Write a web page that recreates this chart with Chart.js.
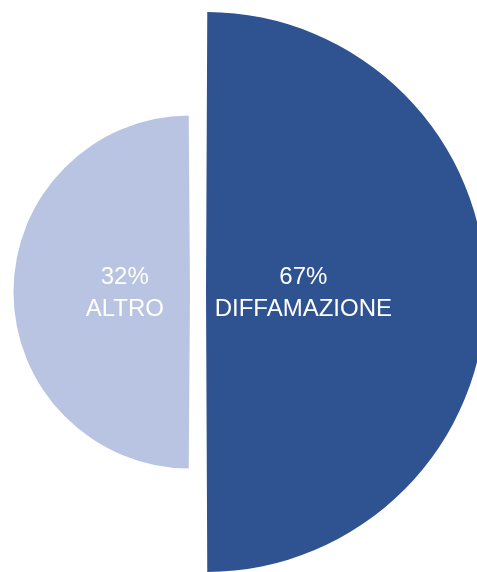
<!DOCTYPE html>
<html>
<head>
<meta charset="utf-8">
<script src="https://cdn.jsdelivr.net/npm/chart.js@4/dist/chart.umd.min.js"></script>
<style>
  html, body { margin:0; padding:0; background:#fff; overflow:hidden; }
  body { width:477px; height:572px; position:relative; }
  #wrap { position:absolute; left:-90px; top:4px; width:576px; height:576px; }
</style>
</head>
<body>
<div id="wrap"><canvas id="chart"></canvas></div>
<script>
// data
const labels   = ['DIFFAMAZIONE', 'ALTRO'];
const values   = [67, 32];
const percents = ['67%', '32%'];
const colors   = ['#2F5290', '#B8C4E2'];

// white two-line labels inside each slice
const sliceLabels = {
  id: 'sliceLabels',
  afterDatasetsDraw(chart){
    const ctx = chart.ctx;
    const meta = chart.getDatasetMeta(0);
    ctx.save();
    ctx.fillStyle = '#fff';
    ctx.font = '24px "Liberation Sans", Arial, sans-serif';
    ctx.textAlign = 'center';
    ctx.textBaseline = 'middle';
    meta.data.forEach((arc, i)=>{
      const mid = (arc.startAngle + arc.endAngle) / 2;
      const d = 21 + arc.outerRadius * 0.31;
      const x = arc.x + Math.cos(mid) * d;
      const y = arc.y + Math.sin(mid) * d;
      ctx.fillText(percents[i], x, y - 15);
      ctx.fillText(labels[i], x, y + 17);
    });
    ctx.restore();
  }
};

new Chart(document.getElementById('chart'), {
  type: 'polarArea',
  data: {
    labels: labels,
    datasets: [{
      data: values,
      backgroundColor: colors,
      borderWidth: 0,
      offset: 32,
      clip: false
    }]
  },
  options: {
    responsive: true,
    maintainAspectRatio: false,
    animation: false,
    layout: { padding: 16 },
    scales: {
      r: { display:false, min:-25, max:67 }
    },
    plugins: {
      legend: { display:false },
      tooltip: { enabled:false }
    }
  },
  plugins: [sliceLabels]
});
</script>
</body>
</html>
